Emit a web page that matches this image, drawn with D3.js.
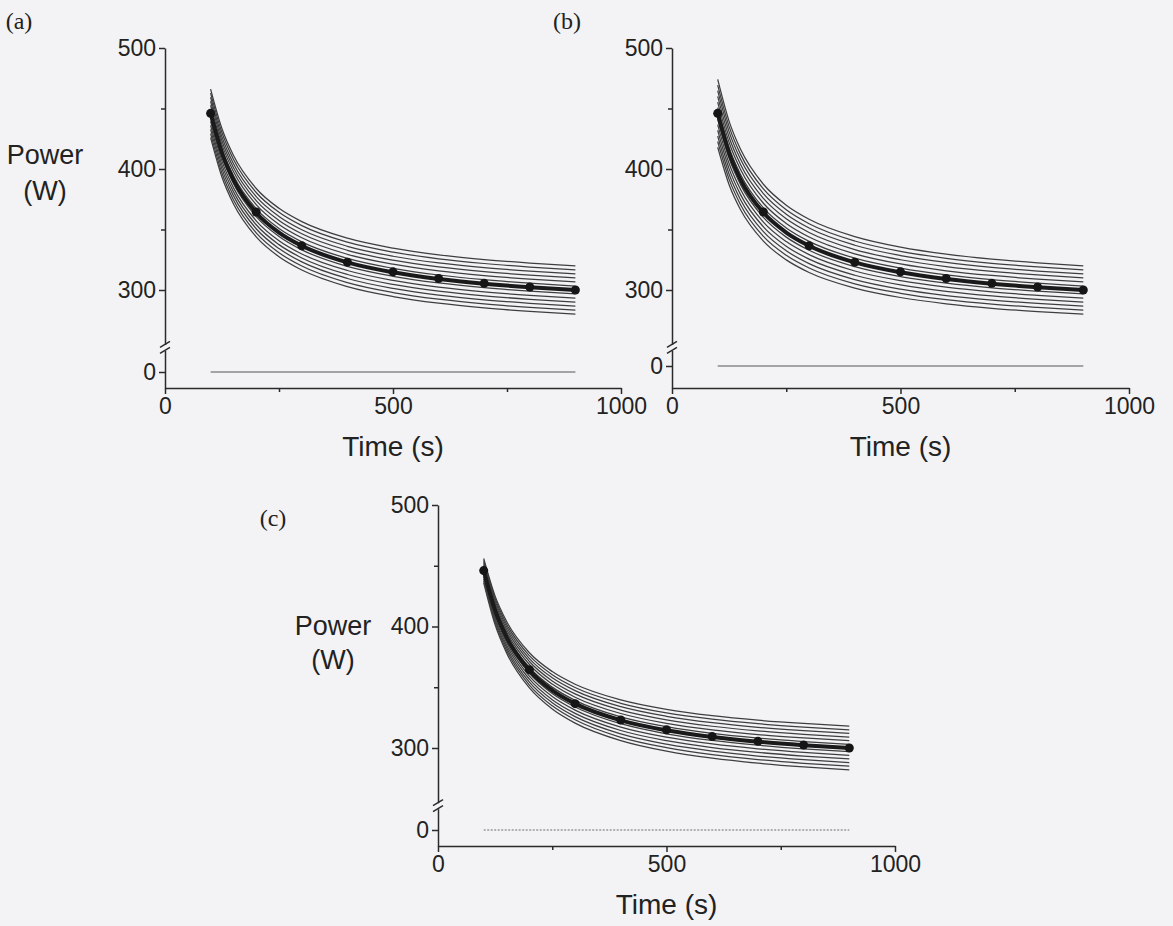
<!DOCTYPE html>
<html><head><meta charset="utf-8">
<script src="https://cdn.jsdelivr.net/npm/d3@7/dist/d3.min.js"></script>
<style>body{margin:0;background:#f3f3f5;} svg{display:block}</style>
</head><body><svg id="chart" width="1173" height="926"></svg>
<script>
// ---- data ----
const times = [100,125,150,200,250,300,400,500,600,700,800,900];
const meanCurve = [446.0,413.2,391.3,363.9,347.5,336.5,322.8,314.6,309.1,305.2,302.3,300.0];
const dotTimes = [100,200,300,400,500,600,700,800,900];
const dotPower = [446,364.5,336.5,323,315,309.5,305.5,302.5,300];
const zeroTimes = [100,900];
const zeroPower = [0,0];
const xTicks = [0,500,1000];
const xMinorTicks = [250,750];
const yTicks = [300,400,500];
const yMinorTicks = [350,450];
const yZeroTick = [0];
const panelLabels = ["(a)","(b)","(c)"];

const linesA = [
 [466.0,433.2,411.3,383.9,367.5,356.5,342.8,334.6,329.1,325.2,322.3,320.0],
 [462.7,429.9,408.0,380.6,364.2,353.2,339.5,331.3,325.8,321.9,319.0,316.7],
 [459.3,426.5,404.6,377.2,360.8,349.8,336.1,327.9,322.4,318.5,315.6,313.3],
 [456.0,423.2,401.3,373.9,357.5,346.5,332.8,324.6,319.1,315.2,312.3,310.0],
 [452.7,419.9,398.0,370.6,354.2,343.2,329.5,321.3,315.8,311.9,309.0,306.7],
 [449.3,416.5,394.6,367.2,350.8,339.8,326.1,317.9,312.4,308.5,305.6,303.3],
 [442.7,409.9,388.0,360.6,344.2,333.2,319.5,311.3,305.8,301.9,299.0,296.7],
 [439.3,406.5,384.6,357.2,340.8,329.8,316.1,307.9,302.4,298.5,295.6,293.3],
 [436.0,403.2,381.3,353.9,337.5,326.5,312.8,304.6,299.1,295.2,292.3,290.0],
 [432.7,399.9,378.0,350.6,334.2,323.2,309.5,301.3,295.8,291.9,289.0,286.7],
 [429.3,396.5,374.6,347.2,330.8,319.8,306.1,297.9,292.4,288.5,285.6,283.3],
 [426.0,393.2,371.3,343.9,327.5,316.5,302.8,294.6,289.1,285.2,282.3,280.0]
];
const linesB = [
 [474.0,439.4,416.3,387.4,370.1,358.5,344.1,335.4,329.6,325.5,322.4,320.0],
 [469.3,435.0,412.1,383.5,366.3,354.8,340.5,331.9,326.2,322.1,319.1,316.7],
 [464.7,430.7,408.0,379.6,362.6,351.2,337.0,328.5,322.8,318.7,315.7,313.3],
 [460.0,426.3,403.8,375.7,358.8,347.5,333.4,325.0,319.4,315.4,312.4,310.0],
 [455.3,421.9,399.6,371.7,355.0,343.8,329.9,321.5,315.9,312.0,309.0,306.7],
 [450.7,417.6,395.5,367.8,351.3,340.2,326.3,318.1,312.5,308.6,305.7,303.3],
 [441.3,408.8,387.1,360.0,343.7,332.8,319.3,311.1,305.7,301.8,299.0,296.7],
 [436.7,404.5,383.0,356.1,340.0,329.2,315.7,307.7,302.3,298.4,295.6,293.3],
 [432.0,400.1,378.8,352.2,336.2,325.5,312.2,304.2,298.9,295.1,292.3,290.0],
 [427.3,395.7,374.6,348.2,332.4,321.8,308.6,300.7,295.4,291.7,288.9,286.7],
 [422.7,391.4,370.5,344.3,328.7,318.2,305.1,297.3,292.0,288.3,285.6,283.3],
 [418.0,387.0,366.3,340.4,324.9,314.5,301.6,293.8,288.6,284.9,282.2,280.0]
];
const linesC = [
 [456.0,425.0,404.3,378.4,362.9,352.5,339.6,331.8,326.6,322.9,320.2,318.0],
 [454.3,423.0,402.1,376.0,360.3,349.8,336.8,328.9,323.7,320.0,317.2,315.0],
 [452.7,421.1,400.0,373.6,357.8,347.2,334.0,326.1,320.8,317.0,314.2,312.0],
 [451.0,419.1,397.8,371.2,355.2,344.5,331.2,323.2,317.9,314.1,311.3,309.0],
 [449.3,417.1,395.6,368.7,352.6,341.8,328.4,320.3,314.9,311.1,308.3,306.0],
 [447.7,415.2,393.5,366.3,350.1,339.2,325.6,317.5,312.0,308.2,305.3,303.0],
 [444.3,411.2,389.1,361.5,344.9,333.8,320.0,311.7,306.2,302.3,299.3,297.0],
 [442.7,409.3,387.0,359.1,342.4,331.2,317.2,308.9,303.3,299.3,296.3,294.0],
 [441.0,407.3,384.8,356.7,339.8,328.5,314.4,306.0,300.4,296.4,293.4,291.0],
 [439.3,405.3,382.6,354.2,337.2,325.8,311.6,303.1,297.4,293.4,290.4,288.0],
 [437.7,403.4,380.5,351.8,334.7,323.2,308.8,300.3,294.5,290.5,287.4,285.0],
 [436.0,401.4,378.3,349.4,332.1,320.5,306.1,297.4,291.6,287.5,284.4,282.0]
];

// ---- layout ----
const panels = [
 {label:panelLabels[0], lines:linesA, x0:165, x1:621, y500:48, y300:290, yZero:372, yAxis:388,
  lab:[19,21], title:[45,155,191], dashedZero:false},
 {label:panelLabels[1], lines:linesB, x0:672, x1:1129, y500:48, y300:290, yZero:366, yAxis:388,
  lab:[567,21], title:null, dashedZero:false},
 {label:panelLabels[2], lines:linesC, x0:438, x1:895, y500:505, y300:748, yZero:830, yAxis:846,
  lab:[273,518], title:[333,626,660], dashedZero:true}
];

const svg = d3.select("#chart");
svg.append("rect").attr("width",1173).attr("height",926).attr("fill","#f3f3f5");
const AX = "#2a2a2a";
const FONT = "'Liberation Sans', Arial, sans-serif";
const fmt = d3.format("d");

panels.forEach(p => {
  const g = svg.append("g");
  const x = d3.scaleLinear().domain([0,1000]).range([p.x0,p.x1]);
  const y = d3.scaleLinear().domain([300,500]).range([p.y300,p.y500]);
  const k = (p.y300 - p.y500)/200;
  const breakTopVal = 255;
  const yUp = d3.scaleLinear().domain([breakTopVal,500]).range([y(breakTopVal), y(500)]);
  const breakLowPx = y(breakTopVal) + 6;
  const yLow = d3.scaleLinear()
     .domain([-(p.yAxis-p.yZero)/k, (p.yZero-breakLowPx)/k])
     .range([p.yAxis, breakLowPx]);

  const styleAxis = sel => {
    sel.selectAll("path,line").attr("stroke",AX).attr("stroke-width",1.5);
    sel.selectAll("text").attr("font-family",FONT).attr("font-size",23).attr("fill","#222");
  };
  g.append("g").attr("transform",`translate(${p.x0},0)`)
    .call(d3.axisLeft(yUp).tickValues(yTicks).tickSize(6).tickSizeOuter(0).tickPadding(3).tickFormat(fmt))
    .call(styleAxis);
  g.append("g").attr("transform",`translate(${p.x0},0)`)
    .call(d3.axisLeft(yUp).tickValues(yMinorTicks).tickSize(4).tickSizeOuter(0).tickFormat(""))
    .call(styleAxis).select(".domain").remove();
  g.append("g").attr("transform",`translate(${p.x0},0)`)
    .call(d3.axisLeft(yLow).tickValues(yZeroTick).tickSize(6).tickSizeOuter(0).tickPadding(3).tickFormat(fmt))
    .call(styleAxis);
  g.append("g").attr("transform",`translate(0,${p.yAxis})`)
    .call(d3.axisBottom(x).tickValues(xTicks).tickSize(6).tickSizeOuter(0).tickPadding(4).tickFormat(fmt))
    .call(styleAxis);
  g.append("g").attr("transform",`translate(0,${p.yAxis})`)
    .call(d3.axisBottom(x).tickValues(xMinorTicks).tickSize(4).tickSizeOuter(0).tickFormat(""))
    .call(styleAxis).select(".domain").remove();

  // break marks
  [y(breakTopVal), breakLowPx].forEach(by => {
    g.append("line").attr("x1",p.x0-5).attr("x2",p.x0+5)
      .attr("y1",by+3).attr("y2",by-3)
      .attr("stroke",AX).attr("stroke-width",1.5);
  });

  // zero line
  const zl = d3.line().x((d,i)=>x(zeroTimes[i])).y(d=>yLow(d));
  g.append("path").attr("d",zl(zeroPower)).attr("fill","none")
    .attr("stroke", p.dashedZero ? "#9a9a9a" : "#8a8a8a").attr("stroke-width",1.3)
    .attr("stroke-dasharray", p.dashedZero ? "2,1.5" : null);

  // thin lines
  const ln = d3.line().x((d,i)=>x(times[i])).y(d=>y(d)).curve(d3.curveMonotoneX);
  p.lines.forEach(vals => {
    g.append("path").attr("d",ln(vals)).attr("fill","none")
      .attr("stroke","#3e3e3e").attr("stroke-width",1.25);
  });
  // thick mean line
  g.append("path").attr("d",ln(meanCurve)).attr("fill","none")
    .attr("stroke","#1a1a1a").attr("stroke-width",4);
  // dots
  g.selectAll("circle.dot").data(dotPower).enter().append("circle")
    .attr("cx",(d,i)=>x(dotTimes[i])).attr("cy",d=>y(d)).attr("r",4.5).attr("fill","#151515");

  // axis title x
  g.append("text").attr("x",x(500)).attr("y",p.yAxis+68).attr("text-anchor","middle")
    .attr("font-family",FONT).attr("font-size",28).attr("fill","#222").text("Time (s)");
  // y title
  if (p.title) {
    g.append("text").attr("x",p.title[0]).attr("y",p.title[1]).attr("text-anchor","middle")
      .attr("dominant-baseline","central")
      .attr("font-family",FONT).attr("font-size",27).attr("fill","#222").text("Power");
    g.append("text").attr("x",p.title[0]).attr("y",p.title[2]).attr("text-anchor","middle")
      .attr("dominant-baseline","central")
      .attr("font-family",FONT).attr("font-size",27).attr("fill","#222").text("(W)");
  }
  // panel label
  g.append("text").attr("x",p.lab[0]).attr("y",p.lab[1]).attr("text-anchor","middle")
    .attr("dominant-baseline","central")
    .attr("font-family","'Liberation Serif','Times New Roman',serif").attr("font-size",24)
    .attr("fill","#222").text(p.label);
});
</script></body></html>
